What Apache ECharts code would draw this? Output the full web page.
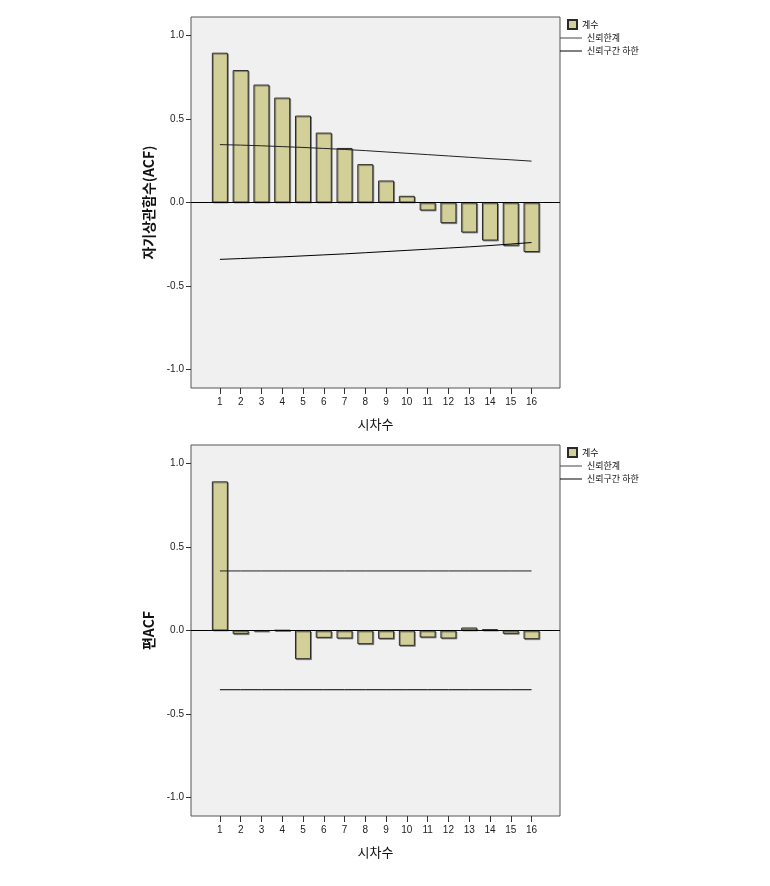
<!DOCTYPE html>
<html><head><meta charset="utf-8">
<script src="https://cdn.jsdelivr.net/npm/echarts@6/dist/echarts.min.js"></script>
<style>html,body{margin:0;padding:0;background:#fff}#c{width:770px;height:886px}</style>
</head><body><div id="c"></div>
<script>
const lags = [1,2,3,4,5,6,7,8,9,10,11,12,13,14,15,16];
const acf = [0.898,0.794,0.707,0.629,0.521,0.419,0.327,0.230,0.132,0.040,-0.048,-0.124,-0.180,-0.228,-0.259,-0.297];
const acfUpper = [0.347,0.344,0.340,0.335,0.330,0.324,0.318,0.311,0.303,0.295,0.287,0.279,0.271,0.263,0.256,0.248];
const acfLower = [-0.341,-0.336,-0.331,-0.326,-0.320,-0.314,-0.308,-0.301,-0.294,-0.287,-0.280,-0.273,-0.266,-0.258,-0.249,-0.240];
const pacf = [0.894,-0.022,-0.004,0.002,-0.172,-0.044,-0.048,-0.082,-0.050,-0.092,-0.042,-0.048,0.018,0.008,-0.020,-0.052];
const pacfUpper = [0.357,0.357,0.357,0.357,0.357,0.357,0.357,0.357,0.357,0.357,0.357,0.357,0.357,0.357,0.357,0.357];
const pacfLower = [-0.355,-0.355,-0.355,-0.355,-0.355,-0.355,-0.355,-0.355,-0.355,-0.355,-0.355,-0.355,-0.355,-0.355,-0.355,-0.355];
const yTicks = [-1,-0.5,0,0.5,1];
const yTitles = ['자기상관함수(ACF)','편ACF'];
const xTitle = '시차수';
const legendNames = ['계수','신뢰한계','신뢰구간 하한'];

const FONT = 'Liberation Sans, Arial, sans-serif';
const KFONT = 'Noto Sans CJK KR, sans-serif';
const tops = [17, 445];

function pairs(vals){ return lags.map((l,i)=>[l, vals[i]]); }

const grids = tops.map(t=>({left:191, top:t, width:369, height:371, show:true, backgroundColor:'#f0f0f0', borderColor:'#555', borderWidth:1}));
const xAxes = tops.map((t,i)=>({
  type:'value', gridIndex:i, min:-0.39, max:17.37,
  axisLine:{show:false, onZero:false}, splitLine:{show:false},
  axisTick:{show:true, inside:false, customValues:lags, length:6, lineStyle:{color:'#333'}},
  axisLabel:{customValues:lags, fontFamily:FONT, fontSize:10, color:'#222', margin:9},
  name:xTitle, nameLocation:'middle', nameGap:30,
  nameTextStyle:{fontFamily:KFONT, fontSize:13, color:'#111'}
}));
const yAxes = tops.map((t,i)=>({
  type:'value', gridIndex:i, min:-1.112, max:1.112,
  axisLine:{show:false, onZero:false}, splitLine:{show:false},
  axisTick:{show:true, inside:false, customValues:yTicks, length:5, lineStyle:{color:'#333'}},
  axisLabel:{customValues:yTicks, formatter:v=>v.toFixed(1), fontFamily:FONT, fontSize:10, color:'#222', margin:7},
  name:yTitles[i], nameLocation:'middle', nameGap:35,
  nameTextStyle:{fontFamily:KFONT, fontSize:14, fontWeight:'bold', color:'#111'}
}));

function barSeries(vals, i){
  return {name:legendNames[0], type:'bar', xAxisIndex:i, yAxisIndex:i, data:pairs(vals), barWidth:16,
    itemStyle:{color:'#d3cf98', borderColor:'#2a2a2a', borderWidth:1, shadowColor:'rgba(0,0,0,0.35)', shadowOffsetX:1, shadowOffsetY:1, shadowBlur:0},
    emphasis:{disabled:true}, z:2,
    markLine:{silent:true, symbol:'none', label:{show:false}, lineStyle:{color:'#000', width:1, type:'solid'}, data:[{yAxis:0}]}
  };
}
function lineSeries(name, vals, i, color){
  return {name, type:'line', xAxisIndex:i, yAxisIndex:i, data:pairs(vals), symbol:'none', showSymbol:false,
    lineStyle:{color, width:1}, itemStyle:{color}, z:3, emphasis:{disabled:true}};
}

const series = [
  barSeries(acf,0), lineSeries(legendNames[1], acfUpper, 0, '#222'), lineSeries(legendNames[2], acfLower, 0, '#000'),
  barSeries(pacf,1), lineSeries(legendNames[1], pacfUpper, 1, '#222'), lineSeries(legendNames[2], pacfLower, 1, '#000')
];

const legends = [];
tops.forEach(t=>{
  legends.push({data:[{name:legendNames[0], icon:'rect'}], left:567, top:t+2, orient:'vertical', itemWidth:9, itemHeight:9, itemGap:4,
    selectedMode:false, textStyle:{fontFamily:KFONT, fontSize:9, color:'#111'}, padding:0});
  legends.push({data:[
      {name:legendNames[1], icon:'rect', itemStyle:{color:'#444'}},
      {name:legendNames[2], icon:'rect', itemStyle:{color:'#000'}}
    ], left:560, top:t+15, orient:'vertical', itemWidth:22, itemHeight:1, itemGap:1,
    selectedMode:false, textStyle:{fontFamily:KFONT, fontSize:9, color:'#111', lineHeight:12}, padding:0});
});

const chart = echarts.init(document.getElementById('c'), null, {renderer:'canvas'});
chart.setOption({animation:false, backgroundColor:'#fff', grid:grids, xAxis:xAxes, yAxis:yAxes, series, legend:legends});
</script></body></html>
